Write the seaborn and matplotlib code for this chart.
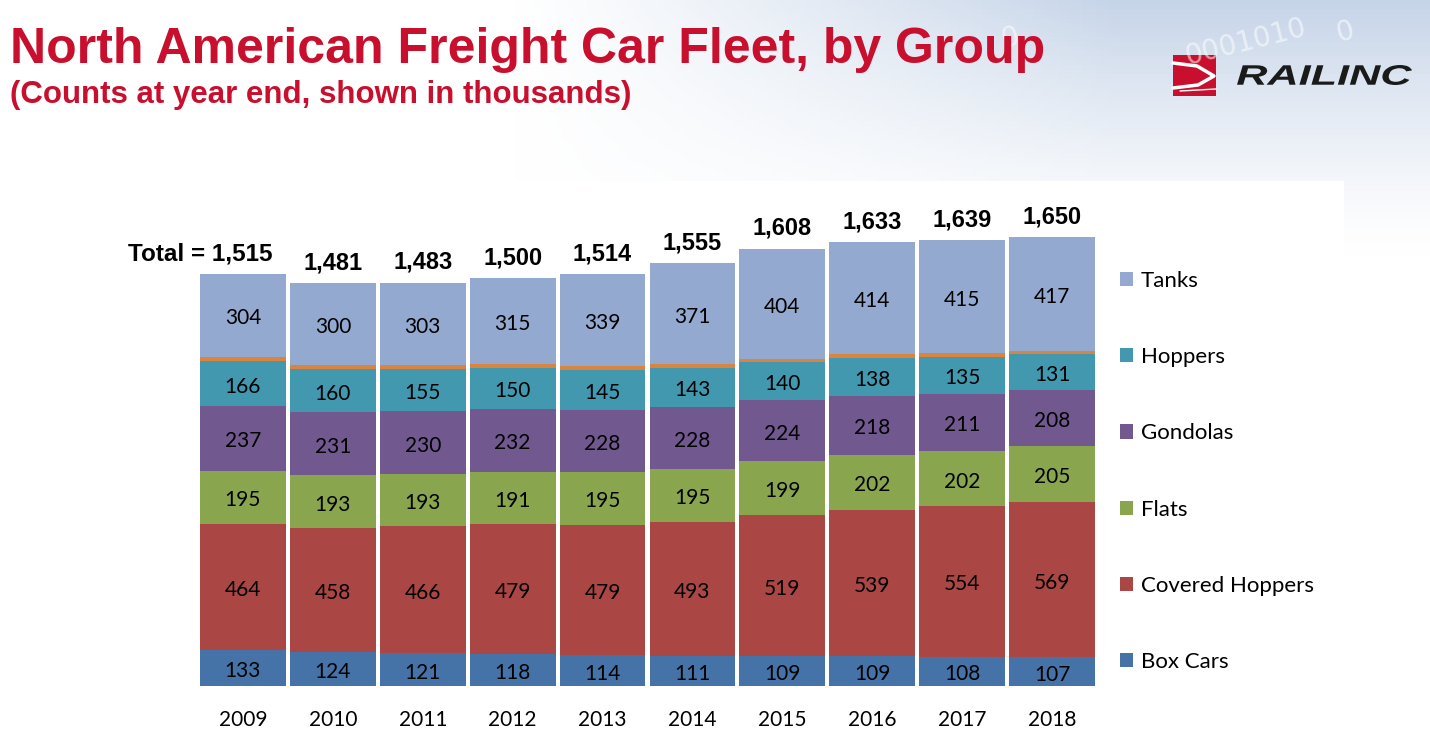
"""
North American freight car fleet by group, stacked bars (Railinc style slide).
"""

import numpy as np
import pandas as pd
import matplotlib.pyplot as plt
import seaborn as sns
from matplotlib.patches import Rectangle, Patch, PathPatch
from matplotlib.textpath import TextPath
from matplotlib.font_manager import FontProperties
from matplotlib.transforms import Affine2D

sns.set_style("white")
plt.rcParams['font.family'] = ['Lato', 'DejaVu Sans']
plt.rcParams['text.color'] = 'black'
plt.rcParams['xtick.color'] = 'black'

# Data (thousands of cars, year end)
years = ['2009', '2010', '2011', '2012', '2013', '2014', '2015', '2016', '2017', '2018']
box_cars = [133, 124, 121, 118, 114, 111, 109, 109, 108, 107]
covered_hoppers = [464, 458, 466, 479, 479, 493, 519, 539, 554, 569]
flats = [195, 193, 193, 191, 195, 195, 199, 202, 202, 205]
gondolas = [237, 231, 230, 232, 228, 228, 224, 218, 211, 208]
hoppers = [166, 160, 155, 150, 145, 143, 140, 138, 135, 131]
other = [16, 15, 15, 15, 14, 14, 13, 13, 14, 13]
tanks = [304, 300, 303, 315, 339, 371, 404, 414, 415, 417]
totals = [1515, 1481, 1483, 1500, 1514, 1555, 1608, 1633, 1639, 1650]

groups = ['Box Cars', 'Covered Hoppers', 'Flats', 'Gondolas', 'Hoppers', 'Other', 'Tanks']
colors = {'Box Cars': '#4572A7', 'Covered Hoppers': '#AA4643', 'Flats': '#89A54E',
          'Gondolas': '#71588F', 'Hoppers': '#4198AF', 'Other': '#DB843D',
          'Tanks': '#93A9CF'}

df = pd.DataFrame({'Year': years, 'Box Cars': box_cars, 'Covered Hoppers': covered_hoppers,
                   'Flats': flats, 'Gondolas': gondolas, 'Hoppers': hoppers,
                   'Other': other, 'Tanks': tanks})
cum = df[groups].cumsum(axis=1)
bottoms = cum - df[groups]

W, H = 1430, 744
fig = plt.figure(figsize=(W / 100, H / 100), dpi=100)

# background: bluish texture fading to white
bg = fig.add_axes([0, 0, 1, 1], zorder=-10)
xs = np.linspace(0, 1, 300)
ys = np.linspace(0, 1, 160)
X, Y = np.meshgrid(xs, ys)
wx = np.clip((X - 0.36) / 0.42, 0, 1)
wy = np.clip(1 - Y / 0.34, 0, 1)
w = (wx ** 1.1) * (wy ** 1.3) * 0.9
w[(Y > 180 / H) & (X < 1347 / W)] = 0
tint = np.array([192, 208, 230]) / 255
img = np.ones((len(ys), len(xs), 3)) * (1 - w[..., None]) + tint * w[..., None]
bg.imshow(img, extent=[0, 1, 0, 1], origin='upper', aspect='auto')
bg.set_xlim(0, 1)
bg.set_ylim(0, 1)
bg.axis('off')
for txt, x, y in [('0001010', 1245, 42), ('0', 1345, 32), ('0', 1010, 38)]:
    fig.text(x / W, 1 - y / H, txt, color='white', alpha=0.55, fontsize=20,
             rotation=14, ha='center', va='center', family='DejaVu Sans')

# chart axes
ax = fig.add_axes([198 / W, 58 / H, 899 / W, 1700 * 0.272 / H])
for g in groups[::-1]:
    sns.barplot(x=df['Year'], y=cum[g], color=colors[g], saturation=1, width=0.955,
                errorbar=None, linewidth=0, ax=ax)
ax.set_ylim(0, 1700)
ax.set_xlim(-0.5, 9.5)
ax.set_xlabel('')
ax.set_ylabel('')
ax.set_yticks([])
sns.despine(ax=ax, left=True, bottom=True)
ax.tick_params(axis='x', length=0, pad=17, labelsize=15, labelcolor='black')
ax.set_facecolor('none')

# segment labels
for g in groups:
    if g == 'Other':
        continue
    for i in range(len(years)):
        v = df[g][i]
        ax.annotate(f"{v}", xy=(i, bottoms[g][i] + v / 2), xytext=(0, -2.2),
                    textcoords='offset points', ha='center', va='center',
                    fontsize=15, color='black')

# total labels
for i, t in enumerate(totals):
    if i == 0:
        ax.annotate(f"Total = {t:,}", xy=(i, t), xytext=(21.5, 14.5), textcoords='offset points',
                    ha='right', va='center', fontsize=17.5, fontweight='bold',
                    family='Liberation Sans', color='black')
    else:
        ax.annotate(f"{t:,}", xy=(i, t), xytext=(0, 14.5), textcoords='offset points',
                    ha='center', va='center', fontsize=17, fontweight='bold',
                    family='Liberation Sans', color='black')

# legend
leg_groups = ['Tanks', 'Hoppers', 'Gondolas', 'Flats', 'Covered Hoppers', 'Box Cars']
handles = [Patch(facecolor=colors[g], edgecolor='none') for g in leg_groups]
leg = fig.legend(handles, leg_groups, loc='upper left', bbox_to_anchor=(1111 / W, 1 - 262 / H),
                 frameon=False, fontsize=16, handlelength=0.6, handleheight=0.6,
                 handletextpad=0.35, labelspacing=2.53, borderaxespad=0)
for t in leg.get_texts():
    t.set_color('black')

# titles
red = '#C8102E'
fig.text(10 / W, 1 - 63 / H, 'North American Freight Car Fleet, by Group', va='baseline',
         fontsize=36, fontweight='bold', color=red, family='Liberation Sans')
fig.text(10 / W, 1 - 103 / H, '(Counts at year end, shown in thousands)', va='baseline',
         fontsize=22.5, fontweight='bold', color=red, family='Liberation Sans')

# logo
fig.add_artist(Rectangle((1173 / W, 1 - 96 / H), 43 / W, 41 / H, transform=fig.transFigure,
                         facecolor=red, edgecolor='none'))
sw = [(1173, 63), (1197, 66), (1214, 76), (1198, 85), (1173, 88)]
fig.add_artist(plt.Line2D([p[0] / W for p in sw], [1 - p[1] / H for p in sw],
                          transform=fig.transFigure, color='white', lw=2.5))
fig.add_artist(plt.Line2D([1180 / W, 1216 / W], [1 - 91 / H, 1 - 89 / H],
                          transform=fig.transFigure, color='white', lw=1))
tp = TextPath((0, 0), 'RAILINC', size=1,
              prop=FontProperties(family='Liberation Sans', weight='bold', style='italic'))
ext = tp.get_extents()
sx = 175 / ext.width
sy = 20 / ext.height
tr = Affine2D().translate(-ext.x0, -ext.y0).scale(sx / W, sy / H).translate(1237 / W, 1 - 85 / H)
fig.add_artist(PathPatch(tp, transform=tr + fig.transFigure, facecolor='#1a1a1a',
                         edgecolor='none'))

fig.savefig('out.png', dpi=100)
